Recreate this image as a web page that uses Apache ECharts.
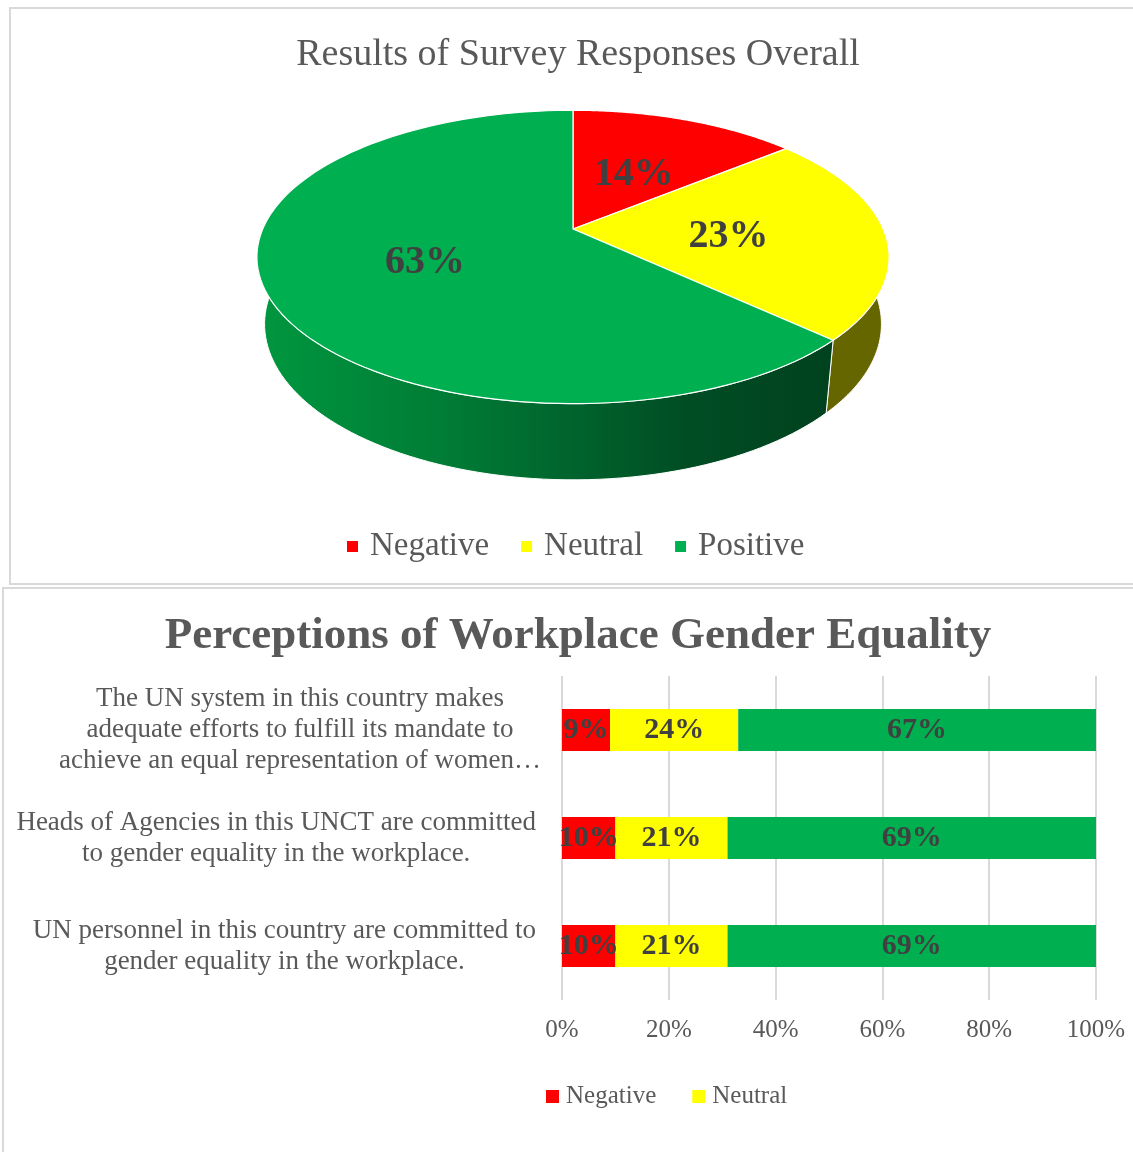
<!DOCTYPE html>
<html>
<head>
<meta charset="utf-8">
<script src="https://cdn.jsdelivr.net/npm/echarts@6/dist/echarts.min.js"></script>
<style>
html,body{margin:0;padding:0;background:#fff;}
#c{width:1133px;height:1152px;}
</style>
</head>
<body>
<div id="c"></div>
<script>
// ---------- data ----------
const pieNames = ['Negative', 'Neutral', 'Positive'];
const pieValues = [14, 23, 63];

const barCategories = [
  'The UN system in this country makes\nadequate efforts to fulfill its mandate to\nachieve an equal representation of women…',
  'Heads of Agencies in this UNCT are committed\nto gender equality in the workplace.',
  'UN personnel in this country are committed to\ngender equality in the workplace.'
];
const negativeValues = [9, 10, 10];
const neutralValues = [24, 21, 21];
const positiveValues = [67, 69, 69];

// ---------- styles ----------
const COL = { neg: '#ff0000', neu: '#ffff00', pos: '#00b050' };
const WALL = ['#990000', '#666600', null];
const TXT = '#595959';
const FONT = '"Liberation Serif", "DejaVu Serif", serif';

// perspective projection of the 3D pie (layout constants)
const PIE = { cx: 573, cy: 229, F: 1449, d: 4.67, elev: 27.1 * Math.PI / 180, h: 0.245, labelR: 0.5, labelDy: 5 };
function proj(r, phi, z) {
  const x = r * Math.sin(phi), y = r * Math.cos(phi);
  const ce = Math.cos(PIE.elev), se = Math.sin(PIE.elev);
  const depth = y * ce - z * se + PIE.d;
  return [PIE.cx + x * PIE.F / depth, PIE.cy - (y * se + z * ce) * PIE.F / depth];
}
function arc(a0, a1, z, n) {
  const pts = [];
  for (let k = 0; k <= n; k++) pts.push(proj(1, a0 + (a1 - a0) * k / n, z));
  return pts;
}
const pieTotal = pieValues.reduce((s, v) => s + v, 0);
const greenWall = new echarts.graphic.LinearGradient(257, 0, 830, 0, [
  { offset: 0, color: '#00973f' },
  { offset: 0.35, color: '#007a35' },
  { offset: 0.75, color: '#004d24' },
  { offset: 1, color: '#00421e' }
], true);

function renderPie(params, api) {
  const i = params.dataIndex;
  let start = 0;
  for (let j = 0; j < i; j++) start += pieValues[j];
  const v = api.value(0);
  const a0 = start / pieTotal * 2 * Math.PI;
  const a1 = (start + v) / pieTotal * 2 * Math.PI;
  const topCol = [COL.neg, COL.neu, COL.pos][i];
  const children = [];
  // side wall (front half only)
  const lo = Math.max(a0, Math.PI / 2), hi = Math.min(a1, 3 * Math.PI / 2);
  if (hi > lo) {
    const top = arc(lo, hi, 0, 80);
    const bot = arc(lo, hi, -PIE.h, 80).reverse();
    children.push({
      type: 'polygon', z2: 1,
      shape: { points: top.concat(bot) },
      style: { fill: i === 2 ? greenWall : WALL[i], stroke: '#ffffff', lineWidth: 1 }
    });
  }
  // top face
  const pts = [proj(0, 0, 0)].concat(arc(a0, a1, 0, 120));
  children.push({
    type: 'polygon', z2: 10,
    shape: { points: pts },
    style: { fill: topCol, stroke: '#ffffff', lineWidth: 1.2 }
  });
  // label
  const mid = (a0 + a1) / 2;
  const lp = proj(PIE.labelR, mid, 0);
  children.push({
    type: 'text', z2: 20,
    x: lp[0], y: lp[1] + PIE.labelDy,
    style: {
      text: Math.round(v / pieTotal * 100) + '%',
      fill: '#404040',
      fontSize: 40, fontWeight: 'bold', fontFamily: FONT,
      align: 'center', verticalAlign: 'middle'
    }
  });
  return { type: 'group', children: children };
}

const chart = echarts.init(document.getElementById('c'), null, { renderer: 'canvas' });

const labelBase = { fontSize: 27, lineHeight: 31, color: TXT, fontFamily: FONT, align: 'center' };
const barLabel = { show: true, position: 'inside', formatter: '{c}%', fontSize: 30, fontWeight: 'bold', color: '#404040', fontFamily: FONT };

chart.setOption({
  animation: false,
  backgroundColor: '#ffffff',
  graphic: [
    { type: 'rect', z: -10, shape: { x: 10, y: 8, width: 1140, height: 576 }, style: { fill: 'none', stroke: '#d9d9d9', lineWidth: 2 } },
    { type: 'rect', z: -10, shape: { x: 3, y: 588, width: 1150, height: 580 }, style: { fill: 'none', stroke: '#d9d9d9', lineWidth: 2 } }
  ],
  title: [
    {
      text: 'Results of Survey Responses Overall',
      left: 573, top: 31, textAlign: 'center',
      textStyle: { fontSize: 38, fontWeight: 'normal', color: TXT, fontFamily: FONT }
    },
    {
      text: 'Perceptions of Workplace Gender Equality',
      left: 573, top: 609, textAlign: 'center',
      textStyle: { fontSize: 45, fontWeight: 'bold', color: TXT, fontFamily: FONT }
    }
  ],
  legend: [
    {
      data: pieNames,
      left: 342, top: 525,
      icon: 'rect', itemWidth: 11, itemHeight: 11, itemGap: 32,
      textStyle: { fontSize: 33, color: TXT, fontFamily: FONT, padding: [0, 0, 0, 7] },
      selectedMode: false
    },
    {
      data: ['Negative', 'Neutral'],
      left: 541, top: 1079,
      icon: 'rect', itemWidth: 13, itemHeight: 13, itemGap: 36,
      textStyle: { fontSize: 25, color: TXT, fontFamily: FONT, padding: [0, 0, 0, 2] },
      selectedMode: false
    }
  ],
  grid: { left: 562, right: 37, top: 676, height: 324, containLabel: false },
  xAxis: {
    type: 'value', min: 0, max: 100, interval: 20,
    axisLine: { show: false }, axisTick: { show: false },
    splitLine: { show: true, lineStyle: { color: '#d9d9d9', width: 2 } },
    axisLabel: { formatter: '{value}%', fontSize: 25, color: TXT, fontFamily: FONT, margin: 18 }
  },
  yAxis: {
    type: 'category', inverse: true, data: barCategories,
    axisLine: { show: false }, axisTick: { show: false },
    axisLabel: {
      margin: 26,
      formatter: function (value, index) {
        const key = index === 0 ? 'w' : 'c';
        return value.split('\n').map(l => '{' + key + '|' + l + '}').join('\n');
      },
      rich: {
        c: labelBase,
        w: Object.assign({}, labelBase, { width: 472 })
      }
    }
  },
  series: [
    { name: 'Negative', type: 'bar', stack: 'total', barWidth: 42, data: negativeValues, itemStyle: { color: COL.neg }, label: barLabel },
    { name: 'Neutral', type: 'bar', stack: 'total', barWidth: 42, data: neutralValues, itemStyle: { color: COL.neu }, label: barLabel },
    { name: 'Positive', type: 'bar', stack: 'total', barWidth: 42, data: positiveValues, itemStyle: { color: COL.pos }, label: barLabel },
    {
      name: 'pie3d', type: 'custom', coordinateSystem: 'none',
      data: pieValues.map((v, i) => ({ name: pieNames[i], value: v })),
      renderItem: renderPie,
      silent: true
    }
  ]
});
</script>
</body>
</html>
